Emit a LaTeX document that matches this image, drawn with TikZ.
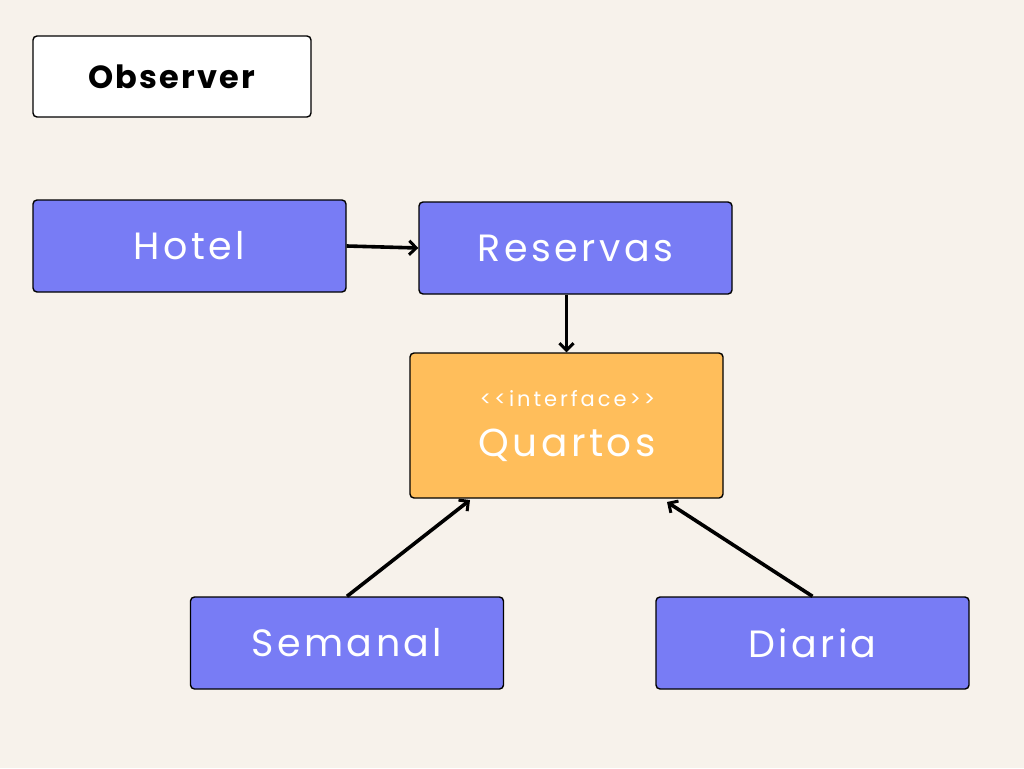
\documentclass[tikz,border=0pt]{standalone}
\usepackage{fontspec}
\setmainfont{Poppins}
\usetikzlibrary{arrows.meta}
\definecolor{bg}{HTML}{F7F2EB}
\definecolor{blu}{HTML}{787CF5}
\definecolor{org}{HTML}{FFBE5B}
\tikzset{
  box/.style={draw=black, line width=1.4pt, rounded corners=4pt, inner sep=0pt, text=white},
  bluebox/.style={box, fill=blu, minimum width=313pt, minimum height=92pt, font=\fontsize{38}{42}\selectfont\addfontfeatures{LetterSpace=9}},
  conn/.style={line width=3.6pt, -{Straight Barb[length=7pt,width=14pt,line width=3pt]}}
}
\begin{document}
\begin{tikzpicture}[x=1pt,y=-1pt]
\fill[bg] (0,0) rectangle (1024,768);
\useasboundingbox (0,0) rectangle (1024,768);
\node[box, fill=white, text=black, minimum width=278pt, minimum height=81pt, font=\fontsize{32}{36}\selectfont\bfseries\addfontfeatures{LetterSpace=7}] (obs) at (172,76.5) {Observer};
\node[bluebox] (hotel) at (189.5,246) {Hotel};
\node[bluebox] (res) at (575.5,248) {Reservas};
\node[box, fill=org, minimum width=313pt, minimum height=145pt] (q) at (566.5,425.5) {};
\node[text=white, font=\fontsize{21}{24}\selectfont\addfontfeatures{LetterSpace=14}] (qi) at (567.5,399) {{<}{<}interface{>}{>}};
\node[text=white, font=\fontsize{39}{42}\selectfont\addfontfeatures{LetterSpace=9}] (qn) at (567,445) {Quartos};
\node[bluebox] (sem) at (347,643) {Semanal};
\node[bluebox] (dia) at (812.5,643) {Diaria};
\draw[conn] (hotel.east) -- (res.west);
\draw[conn] (q.north |- res.south) -- (q.north);
\coordinate (qa) at (470,500);
\coordinate (qb) at (667,502);
\draw[conn] (sem.north) -- (qa);
\draw[conn] (dia.north) -- (qb);
\end{tikzpicture}
\end{document}
